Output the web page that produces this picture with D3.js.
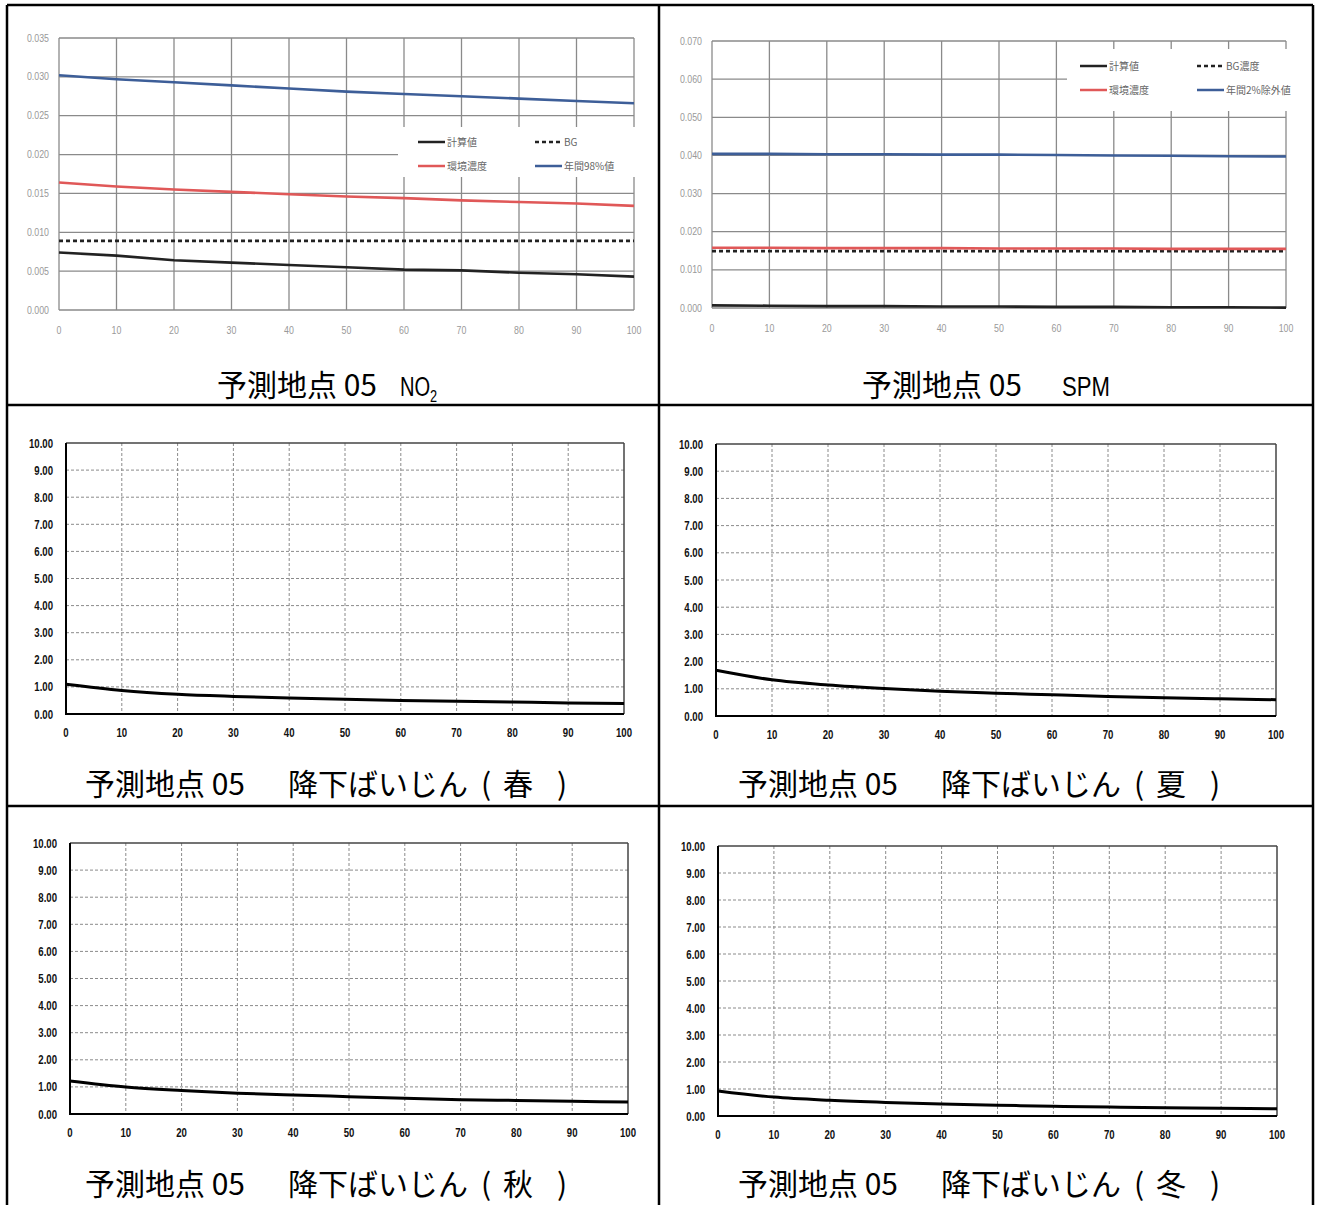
<!DOCTYPE html>
<html><head><meta charset="utf-8">
<script src="https://cdn.jsdelivr.net/npm/d3@7"></script>
<style>body{margin:0;background:#fff}svg{display:block}</style>
</head><body><svg id="c" width="1320" height="1205"></svg>
<script>
// ---------- data ----------
const distances = [0,10,20,30,40,50,60,70,80,90,100];
const xTickValues = [0,10,20,30,40,50,60,70,80,90,100];

const no2Calc = [0.0074,0.0070,0.0064,0.0061,0.0058,0.0055,0.0052,0.0051,0.0048,0.0046,0.0043];
const no2BG   = [0.0089,0.0089,0.0089,0.0089,0.0089,0.0089,0.0089,0.0089,0.0089,0.0089,0.0089];
const no2Env  = [0.0164,0.0159,0.0155,0.0152,0.0149,0.0146,0.0144,0.0141,0.0139,0.0137,0.0134];
const no2P98  = [0.0302,0.0297,0.0293,0.0289,0.0285,0.0281,0.0278,0.0275,0.0272,0.0269,0.0266];
const no2YTicks = [0,0.005,0.010,0.015,0.020,0.025,0.030,0.035];
const no2Legend = ["計算値","BG","環境濃度","年間98%値"];

const spmCalc = [0.0007,0.0006,0.0005,0.0005,0.0004,0.0004,0.0003,0.0003,0.0002,0.0002,0.0001];
const spmBG   = [0.0149,0.0149,0.0149,0.0149,0.0149,0.0149,0.0149,0.0149,0.0149,0.0149,0.0149];
const spmEnv  = [0.0158,0.0158,0.0157,0.0157,0.0157,0.0156,0.0156,0.0156,0.0155,0.0155,0.0155];
const spmP2   = [0.0404,0.0404,0.0403,0.0403,0.0402,0.0402,0.0401,0.0400,0.0399,0.0398,0.0397];
const spmYTicks = [0,0.010,0.020,0.030,0.040,0.050,0.060,0.070];
const spmLegend = ["計算値","BG濃度","環境濃度","年間2%除外値"];

const dustSpring = [1.10,0.87,0.73,0.65,0.59,0.54,0.50,0.47,0.44,0.41,0.39];
const dustSummer = [1.68,1.33,1.14,1.01,0.91,0.84,0.78,0.72,0.67,0.63,0.60];
const dustAutumn = [1.22,1.00,0.87,0.77,0.70,0.64,0.58,0.53,0.50,0.47,0.44];
const dustWinter = [0.93,0.70,0.58,0.50,0.44,0.40,0.36,0.33,0.31,0.29,0.27];
const dustYTicks = [0,1,2,3,4,5,6,7,8,9,10];

const captionHead = "予測地点 05";
const captionSubjects = ["NO", "SPM", "降下ばいじん", "降下ばいじん", "降下ばいじん", "降下ばいじん"];
const seasons = ["春", "夏", "秋", "冬"];

// ---------- drawing ----------
const svg = d3.select("#c");
const CJK = "'Noto Sans CJK JP','Noto Sans',sans-serif";
const SANS = "'Liberation Sans',Arial,sans-serif";

function narrowText(g, x, y, txt, size, anchor, fill, sx, weight) {
  return g.append("text").attr("transform", `translate(${x},${y}) scale(${sx},1)`)
    .attr("text-anchor", anchor).attr("font-family", SANS).attr("font-size", size)
    .attr("font-weight", weight || "normal").attr("fill", fill).text(txt);
}

function topPanel(o) {
  const g = svg.append("g");
  const x = d3.scaleLinear().domain([0,100]).range([o.x0,o.x1]);
  const y = d3.scaleLinear().domain([0,o.ymax]).range([o.yb,o.yt]);
  const gc = "#8a8a8a";
  g.selectAll(".hg").data(o.yTicks).join("line")
    .attr("x1",o.x0).attr("x2",o.x1).attr("y1",d=>y(d)).attr("y2",d=>y(d))
    .attr("stroke",gc).attr("stroke-width",1.3);
  g.selectAll(".vg").data(xTickValues).join("line")
    .attr("x1",d=>x(d)).attr("x2",d=>x(d)).attr("y1",o.yt).attr("y2",o.yb)
    .attr("stroke",gc).attr("stroke-width",1.3);
  const f3 = d3.format(".3f");
  o.yTicks.forEach(d => narrowText(g, o.x0-10, y(d)+3.5, f3(d), 11, "end", "#999", 0.8));
  xTickValues.forEach(d => narrowText(g, x(d), o.yb+24, d, 11, "middle", "#999", 0.8));
  // legend
  const L = o.legend;
  g.append("rect").attr("x",L.x).attr("y",L.y).attr("width",L.w).attr("height",L.h).attr("fill","#fff");
  const styles = [
    {c:"#222",dash:null},{c:"#222",dash:"4,3"},{c:"#e05858",dash:null},{c:"#3d5e98",dash:null}
  ];
  o.names.forEach((nm,i)=>{
    const col = i%2, row = Math.floor(i/2);
    const lx = L.ix + col*L.colW, ly = L.iy + row*L.rowH;
    g.append("line").attr("x1",lx).attr("x2",lx+27).attr("y1",ly).attr("y2",ly)
      .attr("stroke",styles[i].c).attr("stroke-width",2.5).attr("stroke-dasharray",styles[i].dash);
    g.append("text").attr("x",lx+29).attr("y",ly+4).attr("font-family",CJK)
      .attr("font-size",10).attr("fill","#666").text(nm);
  });
  const line = d3.line().x((d,i)=>x(distances[i])).y(d=>y(d));
  o.series.forEach((s,i)=>{
    g.append("path").attr("d",line(s)).attr("fill","none")
      .attr("stroke",styles[i].c).attr("stroke-width",2.6)
      .attr("stroke-dasharray",styles[i].dash);
  });
}

function dustPanel(o) {
  const g = svg.append("g");
  const x = d3.scaleLinear().domain([0,100]).range([o.x0,o.x1]);
  const y = d3.scaleLinear().domain([0,10]).range([o.yb,o.yt]);
  g.selectAll(".hg").data(dustYTicks.slice(1,-1)).join("line")
    .attr("x1",o.x0).attr("x2",o.x1).attr("y1",d=>y(d)).attr("y2",d=>y(d))
    .attr("stroke","#8a8a8a").attr("stroke-width",1).attr("stroke-dasharray","3,2");
  g.selectAll(".vg").data(xTickValues.slice(1,-1)).join("line")
    .attr("x1",d=>x(d)).attr("x2",d=>x(d)).attr("y1",o.yt).attr("y2",o.yb)
    .attr("stroke","#8a8a8a").attr("stroke-width",1).attr("stroke-dasharray","3,2");
  g.append("line").attr("x1",o.x0).attr("x2",o.x1).attr("y1",o.yt).attr("y2",o.yt).attr("stroke","#444").attr("stroke-width",1.5);
  g.append("line").attr("x1",o.x1).attr("x2",o.x1).attr("y1",o.yt).attr("y2",o.yb).attr("stroke","#444").attr("stroke-width",1.5);
  g.append("line").attr("x1",o.x0).attr("x2",o.x0).attr("y1",o.yt).attr("y2",o.yb+1).attr("stroke","#000").attr("stroke-width",2);
  g.append("line").attr("x1",o.x0-1).attr("x2",o.x1).attr("y1",o.yb).attr("y2",o.yb).attr("stroke","#000").attr("stroke-width",2);
  const f2 = d3.format(".2f");
  dustYTicks.forEach(d => narrowText(g, o.x0-13, y(d)+4.5, f2(d), 13, "end", "#111", 0.74, "bold"));
  xTickValues.forEach(d => narrowText(g, x(d), o.yb+23, d, 13, "middle", "#111", 0.74, "bold"));
  const line = d3.line().x((d,i)=>x(distances[i])).y(d=>y(d)).curve(d3.curveMonotoneX);
  g.append("path").attr("d",line(o.data)).attr("fill","none").attr("stroke","#000").attr("stroke-width",3);
}

topPanel({x0:59,x1:634,yt:38,yb:310,ymax:0.035,yTicks:no2YTicks,names:no2Legend,
  series:[no2Calc,no2BG,no2Env,no2P98],
  legend:{x:398,y:127,w:240,h:50,ix:418,iy:142,colW:117,rowH:24}});
topPanel({x0:712,x1:1286,yt:41,yb:308,ymax:0.070,yTicks:spmYTicks,names:spmLegend,
  series:[spmCalc,spmBG,spmEnv,spmP2],
  legend:{x:1067,y:49,w:226,h:62,ix:1080,iy:66,colW:117,rowH:24}});
dustPanel({x0:66,x1:624,yt:443,yb:714,data:dustSpring});
dustPanel({x0:716,x1:1276,yt:444,yb:716,data:dustSummer});
dustPanel({x0:70,x1:628,yt:843,yb:1114,data:dustAutumn});
dustPanel({x0:718,x1:1277,yt:846,yb:1116,data:dustWinter});

// captions
const CS = 30;
function cjk(x, y, txt, anchor) {
  return svg.append("text").attr("x",x).attr("y",y).attr("text-anchor",anchor||"start")
    .attr("font-family",CJK).attr("font-size",CS).attr("fill","#000").text(txt);
}
// row 1
cjk(217, 396, captionHead);
narrowText(svg, 400, 396, captionSubjects[0], 28, "start", "#000", 0.72);
narrowText(svg, 430, 402, "2", 17, "start", "#000", 0.75);
cjk(862, 396, captionHead);
narrowText(svg, 1062, 396, captionSubjects[1], 28, "start", "#000", 0.79);
// rows 2 & 3
[[0,795],[1,795],[0,1195],[1,1195]].forEach(([col,by],k)=>{
  const dx = col*653;
  cjk(85+dx, by, captionHead);
  cjk(288+dx, by, captionSubjects[2+k]);
  cjk(486+dx, by, "(", "middle");
  cjk(503+dx, by, seasons[k]);
  cjk(562+dx, by, ")", "middle");
});

// table borders
const B = [[7,5,1313,5],[7,5,7,1205],[1313,5,1313,1205],[659,5,659,1205],[7,405,1313,405],[7,806,1313,806]];
svg.selectAll(".tb").data(B).join("line")
  .attr("x1",d=>d[0]).attr("y1",d=>d[1]).attr("x2",d=>d[2]).attr("y2",d=>d[3])
  .attr("stroke","#000").attr("stroke-width",2.5);
</script></body></html>
